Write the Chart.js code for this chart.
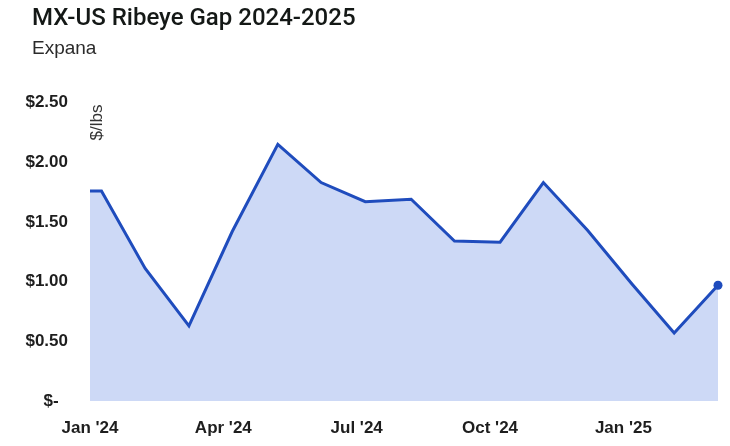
<!DOCTYPE html>
<html>
<head>
<meta charset="utf-8">
<title>MX-US Ribeye Gap 2024-2025</title>
<script src="https://cdn.jsdelivr.net/npm/chart.js"></script>
<style>
    html, body { margin: 0; padding: 0; background: #ffffff; overflow: hidden; }
    #wrap { width: 730px; height: 446px; position: relative; }
</style>
</head>
<body>
<div id="wrap"><canvas id="gapChart"></canvas></div>
<script>
// Observation dates and gap values ($/lbs)
const obsDates = [
    '2024-01-01', '2024-01-09', '2024-02-08', '2024-03-08', '2024-04-07',
    '2024-05-08', '2024-06-07', '2024-07-07', '2024-08-08', '2024-09-07',
    '2024-10-08', '2024-11-07', '2024-12-07', '2025-01-07', '2025-02-05',
    '2025-03-05'
];
const gapValues = [
    1.76, 1.76, 1.11, 0.63, 1.42,
    2.15, 1.83, 1.67, 1.69, 1.34,
    1.33, 1.83, 1.43, 0.98, 0.57,
    0.97
];
const tickMonths = [0, 3, 6, 9, 12];
const tickLabels = ["Jan '24", "Apr '24", "Jul '24", "Oct '24", "Jan '25"];

const LINE_BLUE = '#1f4cbd';
const FILL_BLUE = '#cdd9f6';
const TICK_FONT = { family: '"Liberation Sans", Arial, sans-serif', size: 17, weight: 'bold' };

// months since Jan 1 2024, fractional by day
function monthPos(str) {
    const [y, m, d] = str.split('-').map(Number);
    const daysInMonth = new Date(y, m, 0).getDate();
    return (y - 2024) * 12 + (m - 1) + (d - 1) / daysInMonth;
}

const points = obsDates.map((d, i) => ({ x: monthPos(d), y: gapValues[i] }));
const lastIdx = points.length - 1;

// title + subtitle sit a bit right of the tick labels
const nudgeTitles = {
    id: 'nudgeTitles',
    afterLayout(chart) {
        chart.boxes.forEach(box => {
            if (box.options && box.options.text && box.options.align === 'start') {
                box.left += 16;
                box.right += 16;
            }
        });
    }
};

// rotated unit label sitting inside the plot, top-left
const unitLabel = {
    id: 'unitLabel',
    afterDraw(chart) {
        const { ctx, chartArea } = chart;
        ctx.save();
        ctx.translate(chartArea.left + 7, chartArea.top + 2);
        ctx.rotate(-Math.PI / 2);
        ctx.font = '17px "Liberation Sans", Arial, sans-serif';
        ctx.fillStyle = '#333333';
        ctx.textAlign = 'right';
        ctx.textBaseline = 'middle';
        ctx.fillText('$/lbs', 0, 0);
        ctx.restore();
    }
};

new Chart(document.getElementById('gapChart').getContext('2d'), {
    type: 'line',
    data: {
        datasets: [{
            data: points,
            borderColor: LINE_BLUE,
            backgroundColor: FILL_BLUE,
            borderWidth: 3,
            fill: 'origin',
            tension: 0,
            clip: false,
            pointRadius: ctx => ctx.dataIndex === lastIdx ? 4.5 : 0,
            pointBackgroundColor: LINE_BLUE,
            pointBorderWidth: 0
        }]
    },
    options: {
        responsive: true,
        maintainAspectRatio: false,
        animation: false,
        layout: { padding: { left: 16, right: 12, top: 0, bottom: 10 } },
        plugins: {
            legend: { display: false },
            tooltip: { enabled: false },
            title: {
                display: true,
                text: 'MX-US Ribeye Gap 2024-2025',
                align: 'start',
                color: '#141816',
                font: { family: 'Roboto, "Liberation Sans", sans-serif', size: 24, weight: '500' },
                padding: { top: 5, bottom: 4 }
            },
            subtitle: {
                display: true,
                text: 'Expana',
                align: 'start',
                color: '#2b2b2b',
                font: { family: '"Liberation Sans", Arial, sans-serif', size: 19 },
                padding: { top: 0, bottom: 42 }
            }
        },
        scales: {
            x: {
                type: 'linear',
                min: 0,
                max: points[lastIdx].x,
                grid: { display: false, drawTicks: false },
                border: { display: false },
                afterBuildTicks: scale => {
                    scale.ticks = tickMonths.map(v => ({ value: v }));
                },
                afterFit: scale => { scale.height = 35; },
                ticks: {
                    padding: 17,
                    color: '#1e1e1e',
                    font: TICK_FONT,
                    callback: v => tickLabels[tickMonths.indexOf(v)],
                    maxRotation: 0
                }
            },
            y: {
                min: 0,
                max: 2.5,
                grid: { display: false, drawTicks: false },
                border: { display: false },
                afterFit: scale => { scale.width = 74; },
                ticks: {
                    stepSize: 0.5,
                    padding: 22,
                    color: '#1e1e1e',
                    font: TICK_FONT,
                    callback: v => v === 0 ? '$-  ' : '$' + v.toFixed(2)
                }
            }
        }
    },
    plugins: [nudgeTitles, unitLabel]
});
</script>
</body>
</html>
